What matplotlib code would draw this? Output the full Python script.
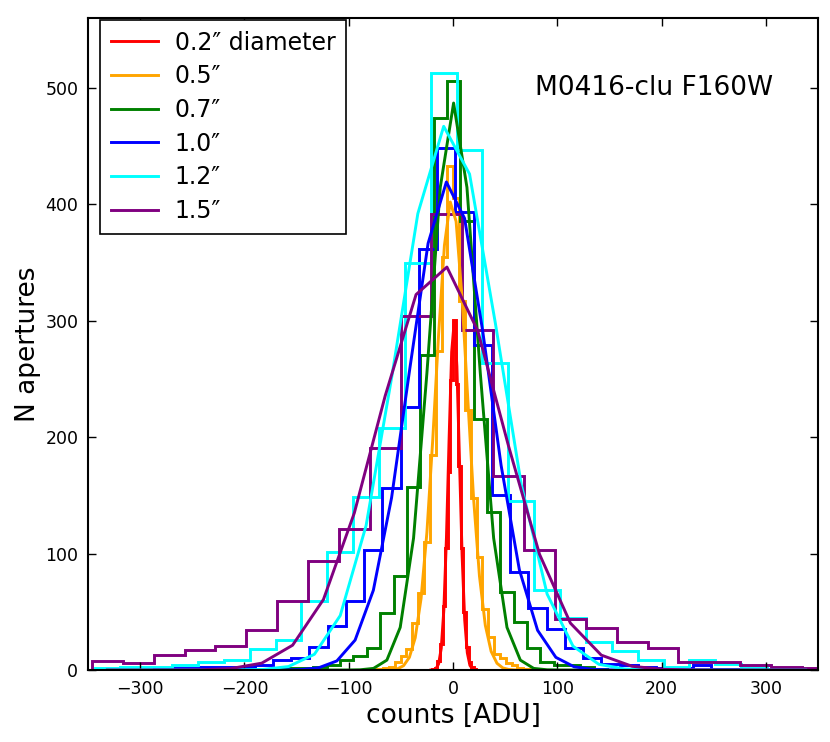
import numpy as np
import matplotlib
matplotlib.use("Agg")
import matplotlib.pyplot as plt

# ---- data ----
labels = ['0.2\u2033 diameter', '0.5\u2033', '0.7\u2033', '1.0\u2033', '1.2\u2033', '1.5\u2033']
colors = ['red', 'orange', 'green', 'blue', 'cyan', 'purple']

# histogram bin layout per aperture: first edge, bin width
bin_lo = [-22.5, -78.2, -172.2, -295.1, -343.7, -346.2]
bin_w = [2.5, 5.6, 12.8, 17.5, 24.8, 29.6]

counts_02 = [0, 1, 2, 8, 22, 55, 105, 170, 249, 301, 246, 175, 105, 50, 20, 7, 3, 1]
counts_05 = [0, 1, 2, 3, 7, 12, 18, 40, 66, 110, 185, 274, 355, 433, 405, 317, 223,
             148, 97, 52, 28, 14, 10, 6, 4, 2, 1, 0]
counts_07 = [1, 2, 2, 3, 4, 9, 12, 19, 49, 81, 157, 271, 474, 506, 386, 216, 136,
             67, 41, 19, 7, 4, 4, 3, 1]
counts_10 = [1, 2, 2, 3, 3, 3, 4, 9, 10, 20, 38, 59, 103, 156, 226, 362, 448, 393,
             279, 150, 84, 53, 35, 19, 10, 5, 4, 3, 2, 2, 4, 1, 1]
counts_12 = [2, 3, 3, 4, 7, 9, 18, 26, 59, 101, 149, 208, 350, 513, 447, 264, 145,
             69, 45, 24, 16, 9, 3, 9, 5, 2, 1, 1]
counts_15 = [8, 6, 13, 17, 21, 34, 59, 94, 121, 191, 304, 392, 292, 167, 103, 44,
             36, 24, 19, 7, 7, 4, 3, 2]

# fitted curves, sampled at the bin centres
fit_02 = [0, 0.2, 1.2, 5.3, 18.6, 51.7, 113.8, 197.4, 273.2, 299.7, 260.8, 180,
          98.6, 42.9, 14.8, 4.0, 0.9, 0.15]
fit_05 = [0, 0, 0.01, 0.1, 1.1, 3.7, 10.9, 27.7, 61.4, 118.1, 197.8, 288, 364.7,
          402, 385.3, 321.2, 232.7, 146.9, 80.7, 38.5, 16.0, 5.8, 1.8, 0.5, 0.1,
          0, 0, 0]
fit_07 = [0, 0, 0, 0, 0, 0.02, 0.2, 1.4, 8.5, 36.6, 113.3, 255, 414.5, 487, 414.5,
          255, 113.3, 36.6, 8.5, 1.4, 0.2, 0.02, 0, 0, 0]
fit_10 = [0, 0, 0, 0, 0, 0, 0, 0.02, 0.4, 1.9, 7.8, 25.7, 68.5, 148.1, 259.1, 366.5,
          419.2, 387.9, 290.3, 175.8, 86.2, 34.1, 10.9, 2.8, 0.6, 0.1, 0, 0, 0, 0,
          0, 0, 0]
fit_12 = [0, 0, 0, 0, 0, 0.07, 0.5, 3.0, 13.5, 46.8, 124.1, 252.8, 392, 467, 426,
          297.6, 159.2, 65.2, 20.5, 4.9, 0.9, 0.1, 0, 0, 0, 0, 0, 0]
fit_15 = [0, 0, 0.03, 0.22, 1.27, 5.9, 21.3, 60.6, 134.9, 235.5, 322.5, 346.1,
          291.3, 192.0, 99.4, 40.3, 12.8, 3.2, 0.6, 0.1, 0, 0, 0, 0]

all_counts = [counts_02, counts_05, counts_07, counts_10, counts_12, counts_15]
all_fits = [fit_02, fit_05, fit_07, fit_10, fit_12, fit_15]

xticks = [-300, -200, -100, 0, 100, 200, 300]
yticks = [0, 100, 200, 300, 400, 500]

# ---- figure ----
plt.rcParams['font.family'] = ['DejaVu Sans']
fig = plt.figure(figsize=(8.3, 7.42), dpi=100)
ax = fig.add_axes([0.106, 0.097, 0.8795, 0.8787])

for lab, col, lo, w, cnt, fit in zip(labels, colors, bin_lo, bin_w, all_counts, all_fits):
    edges = lo + w * np.arange(len(cnt) + 1)
    centers = 0.5 * (edges[:-1] + edges[1:])
    ax.stairs(cnt, edges, color=col, lw=2.1, baseline=0)
    ax.plot(centers, fit, color=col, lw=2.1, label=lab)

ax.set_xlim(-350, 350)
ax.set_ylim(0, 560)
ax.set_xticks(xticks)
ax.set_yticks(yticks)
ax.tick_params(direction='in', top=True, right=True, length=6, width=1,
               labelsize=12.5, pad=7)
for sp in ax.spines.values():
    sp.set_linewidth(1.5)
ax.set_xlabel('counts [ADU]', fontsize=19, labelpad=4)
ax.set_ylabel('N apertures', fontsize=19, labelpad=3)

ax.text(79, 500, 'M0416-clu F160W', fontsize=19, ha='left', va='center')

leg = ax.legend(loc='upper left', bbox_to_anchor=(0.0164, 0.997), borderaxespad=0,
                fontsize=17, handlelength=2.0, labelspacing=0.41, borderpad=0.45,
                fancybox=False, framealpha=1, edgecolor='black',
                handletextpad=0.72)
leg.get_frame().set_linewidth(1.2)

fig.savefig('out.png', dpi=100, facecolor='white')
